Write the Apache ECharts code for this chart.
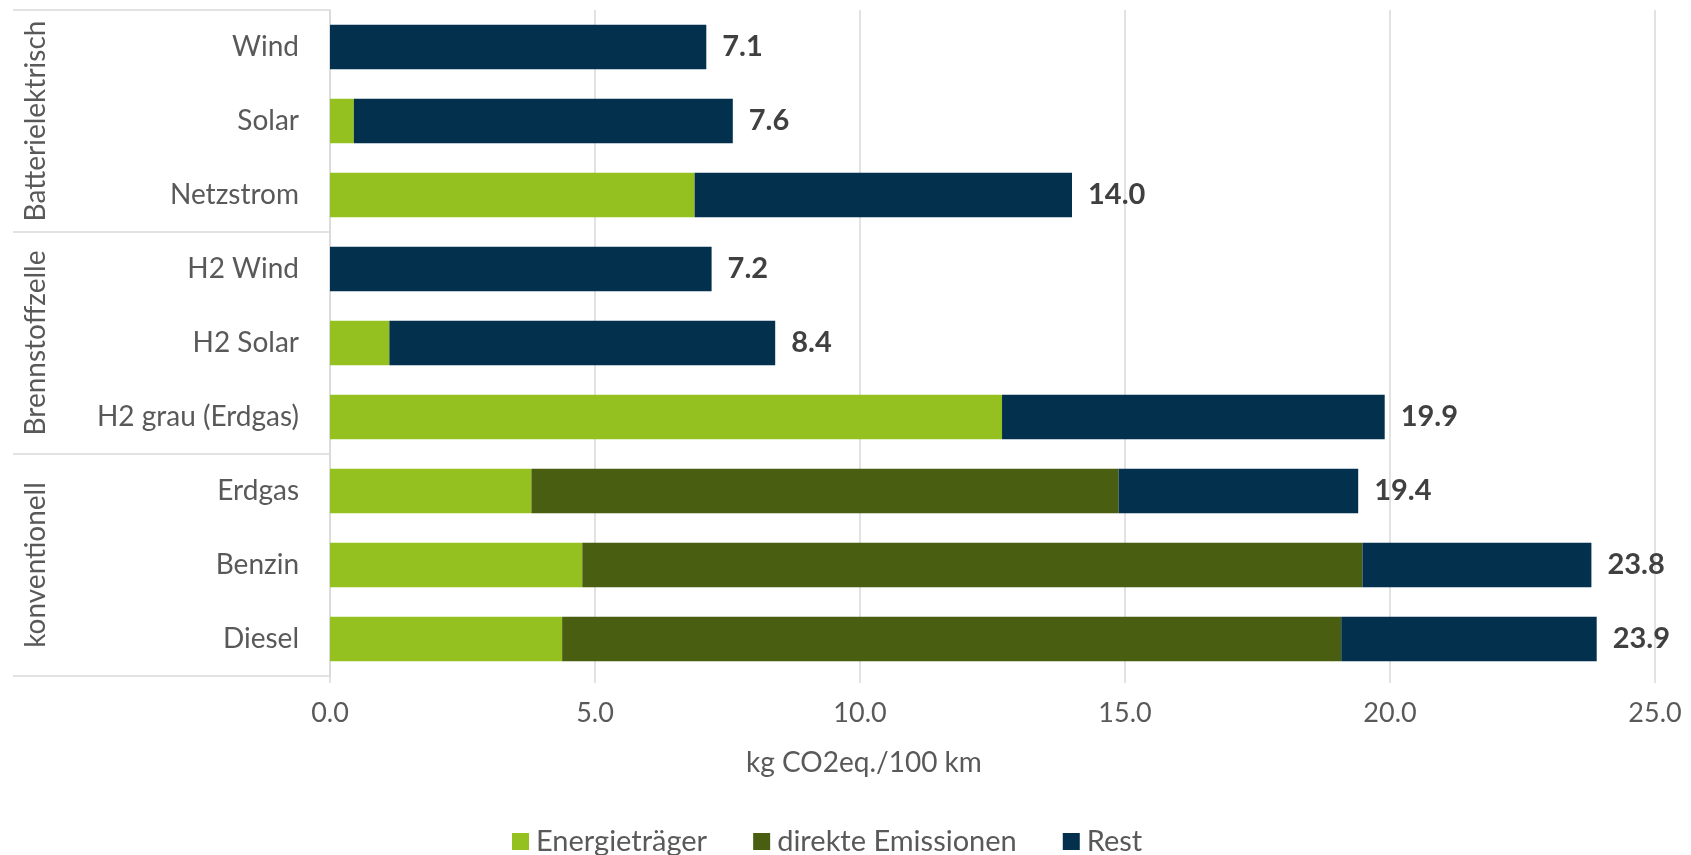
<!DOCTYPE html>
<html>
<head>
<meta charset="utf-8">
<script src="https://cdn.jsdelivr.net/npm/echarts@6/dist/echarts.min.js"></script>
<style>
html,body{margin:0;padding:0;background:#fff;}
#chart{width:1691px;height:855px;}
</style>
</head>
<body>
<div id="chart"></div>
<script>
const categories = ['Wind','Solar','Netzstrom','H2 Wind','H2 Solar','H2 grau (Erdgas)','Erdgas','Benzin','Diesel'];
const groups = ['Batterielektrisch','Brennstoffzelle','konventionell'];
const energietraeger = [0, 0.45, 6.88, 0, 1.12, 12.68, 3.8, 4.76, 4.38];
const direkteEmissionen = [0, 0, 0, 0, 0, 0, 11.08, 14.72, 14.7];
const rest = [7.1, 7.15, 7.12, 7.2, 7.28, 7.22, 4.52, 4.32, 4.82];
const totals = [7.1, 7.6, 14.0, 7.2, 8.4, 19.9, 19.4, 23.8, 23.9];
const xTicks = [0, 5, 10, 15, 20, 25];

const FONT = 'Lato';
const grey = '#595959';
const lineGrey = '#d9d9d9';

const chart = echarts.init(document.getElementById('chart'));
chart.setOption({
  animation: false,
  textStyle: {fontFamily: FONT},
  grid: {left: 330, right: 36, top: 10, bottom: 179, containLabel: false},
  xAxis: {
    type: 'value', min: xTicks[0], max: xTicks[xTicks.length - 1], interval: 5,
    axisLine: {show: false},
    axisTick: {show: true, length: 7, lineStyle: {color: lineGrey, width: 1.5}},
    splitLine: {show: true, lineStyle: {color: lineGrey, width: 1.5}},
    axisLabel: {color: grey, fontSize: 27, fontFamily: FONT, margin: 24,
      formatter: v => v.toFixed(1)}
  },
  yAxis: [{
    type: 'category', data: categories, inverse: true,
    axisLine: {show: true, lineStyle: {color: lineGrey, width: 1.5}},
    axisTick: {show: false},
    axisLabel: {color: grey, fontSize: 28, fontFamily: FONT, margin: 31, interval: 0}
  }, {
    type: 'category', data: groups, inverse: true, position: 'left',
    axisLine: {show: false},
    axisTick: {show: true, interval: 0, length: 317, lineStyle: {color: lineGrey, width: 1.5}},
    axisLabel: {color: grey, fontSize: 28, fontFamily: FONT, rotate: 90, margin: 280, interval: 0}
  }],
  legend: {
    left: 507, top: 822, itemWidth: 17, itemHeight: 17, itemGap: 46,
    icon: 'rect',
    textStyle: {color: grey, fontSize: 29, fontFamily: FONT, padding: [0, 0, 0, 2]},
    data: ['Energieträger', 'direkte Emissionen', 'Rest']
  },
  graphic: [{
    type: 'text', left: 746, top: 749,
    style: {text: 'kg CO2eq./100 km', fill: grey, font: '28px ' + FONT}
  }],
  series: [{
    name: 'Energieträger', type: 'bar', stack: 'a', data: energietraeger,
    barCategoryGap: '40%',
    itemStyle: {color: '#94c11f'}
  }, {
    name: 'direkte Emissionen', type: 'bar', stack: 'a', data: direkteEmissionen,
    barCategoryGap: '40%',
    itemStyle: {color: '#4a5e12'}
  }, {
    name: 'Rest', type: 'bar', stack: 'a', data: rest,
    barCategoryGap: '40%',
    itemStyle: {color: '#02304d'},
    label: {show: true, position: 'right', distance: 16, color: '#404040',
      fontSize: 29, fontWeight: 'bold', fontFamily: FONT,
      formatter: p => totals[p.dataIndex].toFixed(1)}
  }]
});
</script>
</body>
</html>
